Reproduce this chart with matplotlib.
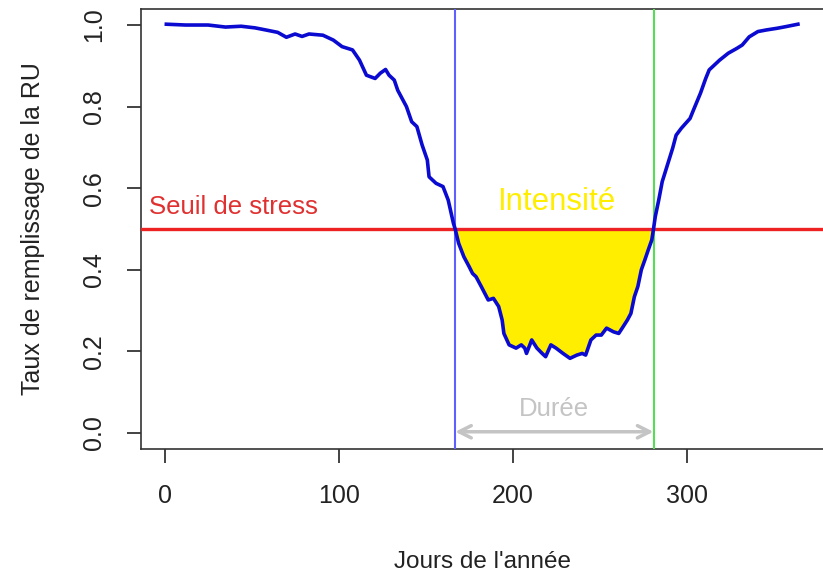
import matplotlib
matplotlib.use("Agg")
import matplotlib.pyplot as plt
import numpy as np

plt.rcParams['font.family'] = ['Liberation Sans', 'DejaVu Sans']

# Curve data (day of year, soil water reserve filling ratio)
days = [1, 12, 25, 35, 44, 52, 58, 65, 70, 75, 79, 83, 91, 97, 102, 108, 112, 116,
        121, 124, 127, 129, 132, 134, 139, 142, 145, 148, 151, 152, 156, 160, 163,
        166, 167, 169, 172, 175, 177, 179, 182, 186, 189, 192, 194, 195, 198, 202,
        205, 207, 208, 211, 214, 217, 219, 222, 225, 229, 233, 237, 240, 242, 245,
        248, 251, 254, 258, 261, 263, 266, 268, 270, 272, 274, 276, 278, 280, 281,
        282, 284, 286, 289, 292, 294, 297, 302, 304, 308, 311, 313, 319, 324, 329,
        332, 336, 341, 346, 352, 357, 364]
ratio = [1.002, 1.0, 1.0, 0.995, 0.997, 0.993, 0.988, 0.982, 0.97, 0.978, 0.972,
         0.978, 0.975, 0.963, 0.947, 0.939, 0.914, 0.877, 0.869, 0.882, 0.891,
         0.877, 0.865, 0.84, 0.80, 0.763, 0.751, 0.706, 0.669, 0.628, 0.612, 0.604,
         0.571, 0.514, 0.5, 0.465, 0.432, 0.408, 0.391, 0.383, 0.359, 0.326, 0.33,
         0.31, 0.277, 0.244, 0.216, 0.208, 0.216, 0.208, 0.195, 0.228, 0.208,
         0.195, 0.187, 0.216, 0.208, 0.195, 0.183, 0.191, 0.195, 0.191, 0.228,
         0.24, 0.24, 0.257, 0.248, 0.244, 0.257, 0.277, 0.293, 0.334, 0.359, 0.40,
         0.424, 0.449, 0.473, 0.5, 0.53, 0.571, 0.616, 0.657, 0.698, 0.73, 0.747,
         0.771, 0.792, 0.833, 0.869, 0.89, 0.914, 0.931, 0.943, 0.951, 0.971,
         0.984, 0.988, 0.992, 0.996, 1.002]

threshold = 0.5
start_day = 167
end_day = 281
x_ticks = [0, 100, 200, 300]
y_ticks = [0.0, 0.2, 0.4, 0.6, 0.8, 1.0]

fig = plt.figure(figsize=(8.23, 5.76), dpi=100)
ax = fig.add_axes([141/823, 1 - 449.3/576, (825 - 141)/823, (449.3 - 8.7)/576])

d = np.array(days, dtype=float)
r = np.array(ratio, dtype=float)
mask = (d >= start_day) & (d <= end_day)
ax.fill_between(d, r, threshold, where=mask, color='#ffee00',
                interpolate=True, zorder=2, linewidth=0)
ax.axhline(threshold, color='#ee2222', lw=2.4, zorder=3)
ax.axvline(start_day, color='#6060ff', lw=1.5, zorder=3)
ax.axvline(end_day, color='#55dd55', lw=1.5, zorder=3)
ax.plot(d, r, color='#0a0ad0', lw=2.6, zorder=4)

ax.annotate('', xy=(start_day, 0.003), xytext=(end_day, 0.003),
            arrowprops=dict(arrowstyle='<->', color='#c4c4c4', lw=2.5,
                            mutation_scale=22, shrinkA=0, shrinkB=0), zorder=5)
ax.text((start_day + end_day) / 2, 0.06, 'Durée', color='#c4c4c4', fontsize=18.5,
        ha='center', va='center')
ax.text((start_day + end_day) / 2 + 1, 0.565, 'Intensité', color='#ffee00', fontsize=22.5,
        ha='center', va='center')
ax.text(-9, 0.553, 'Seuil de stress', color='#e03030', fontsize=18.5,
        ha='left', va='center')

ax.set_xlim(-13.56, 379.56)
ax.set_ylim(-0.04, 1.04)
ax.set_xticks(x_ticks)
ax.set_yticks(y_ticks)
ax.set_xticklabels([str(v) for v in x_ticks])
ax.set_yticklabels([f'{v:.1f}' for v in y_ticks], rotation=90, va='center')
ax.tick_params(axis='both', length=10, width=1.2, labelsize=18, direction='out',
               color='#222222', labelcolor='#222222')
ax.tick_params(axis='x', pad=15)
ax.tick_params(axis='y', pad=15)
for s in ax.spines.values():
    s.set_color('#333333')
    s.set_linewidth(1.2)

ax.set_xlabel("Jours de l'année", fontsize=17.5, labelpad=31, color='#222222')
ax.set_ylabel('Taux de remplissage de la RU', fontsize=18, labelpad=27, color='#222222')

fig.savefig('out.png', dpi=100)
